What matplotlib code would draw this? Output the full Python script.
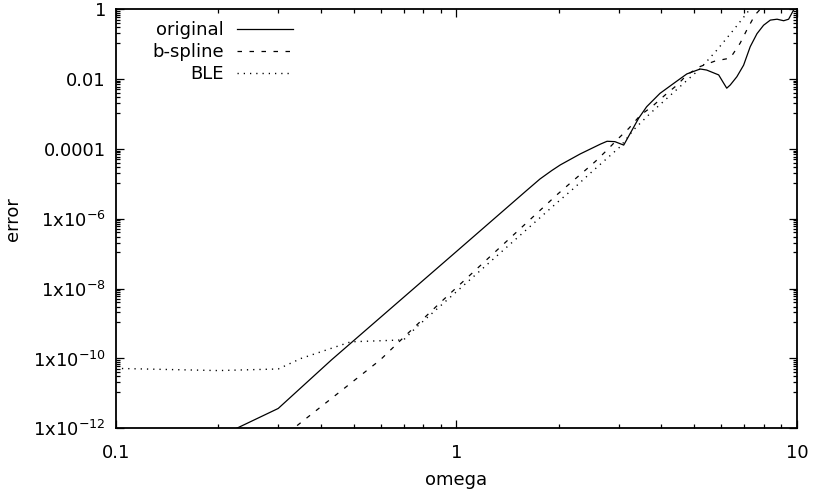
import numpy as np
import matplotlib
matplotlib.use('Agg')
import matplotlib.pyplot as plt
from matplotlib.ticker import FixedLocator, NullFormatter

plt.rcParams['font.family'] = ['DejaVu Sans']
plt.rcParams['font.size'] = 13

# 原始误差曲线
orig_omega = [0.2, 0.3, 0.43, 1.0, 1.6, 1.76, 1.905, 2.02, 2.31, 2.65, 2.77, 2.92, 3.10,
              3.24, 3.43, 3.62, 3.96, 4.35, 4.75, 5.20, 5.43, 5.89, 6.08, 6.22, 6.37,
              6.66, 6.97, 7.29, 7.63, 7.98, 8.35, 8.74, 9.14, 9.45, 9.77, 10.0]
orig_err = [5.6e-13, 3.7e-12, 9.1e-11, 1.15e-7, 6.2e-6, 1.38e-5, 2.4e-5, 3.5e-5, 7.2e-5,
            1.38e-4, 1.66e-4, 1.62e-4, 1.29e-4, 2.8e-4, 7.6e-4, 1.62e-3, 3.9e-3, 7.6e-3,
            1.41e-2, 1.95e-2, 1.82e-2, 1.32e-2, 7.9e-3, 5.5e-3, 6.8e-3, 1.17e-2, 2.5e-2,
            8.5e-2, 0.20, 0.35, 0.49, 0.52, 0.47, 0.52, 0.95, 1.26]

# b-spline 曲线
bspl_omega = [0.3, 0.333, 0.598, 0.70, 0.916, 1.97, 2.16, 2.36, 2.56, 2.77, 2.99,
              3.21, 3.47, 3.75, 4.10, 4.45, 4.75, 5.20, 5.75, 6.37, 6.81, 7.13, 7.53,
              7.80, 8.13]
bspl_err = [4.5e-13, 1.0e-12, 9.1e-11, 4.0e-10, 4.8e-9, 4.8e-6, 1.05e-5, 2.2e-5,
            4.4e-5, 9.3e-5, 2.0e-4, 3.9e-4, 9.3e-4, 1.62e-3, 3.5e-3, 6.8e-3, 1.32e-2,
            2.3e-2, 3.3e-2, 4.0e-2, 0.107, 0.26, 0.69, 1.0, 2.0]

# BLE 曲线
ble_omega = [0.1, 0.2, 0.3, 0.35, 0.49, 0.70, 0.766, 1.886, 2.02, 2.21, 2.47, 2.77,
             3.03, 3.31, 3.71, 4.15, 4.65, 5.20, 5.82, 6.52, 7.13, 7.59]
ble_err = [5.2e-11, 4.5e-11, 5.0e-11, 1.0e-10, 3.0e-10, 3.4e-10, 8.1e-10, 1.95e-6,
           3.5e-6, 7.4e-6, 2.0e-5, 5.4e-5, 1.17e-4, 3.5e-4, 1.05e-3, 2.8e-3, 7.6e-3,
           2.0e-2, 6.8e-2, 0.26, 0.78, 1.8]

y_major = [1e-12, 1e-10, 1e-8, 1e-6, 1e-4, 1e-2, 1]
y_labels = ['1x10$^{-12}$', '1x10$^{-10}$', '1x10$^{-8}$', '1x10$^{-6}$',
            '0.0001', '0.01', '1']
x_major = [0.1, 1, 10]
x_labels = ['0.1', '1', '10']

fig = plt.figure(figsize=(8.13, 4.94), dpi=100)
ax = fig.add_axes([0.1423, 0.133, 0.838, 0.8482])

lw = 0.9
ax.plot(orig_omega, orig_err, color='black', lw=lw, linestyle='-', label='original')
ax.plot(bspl_omega, bspl_err, color='black', lw=lw, linestyle=(0, (3.6, 6.0)), label='b-spline')
ax.plot(ble_omega, ble_err, color='black', lw=1.0, linestyle=(0, (0.9, 3.6)), label='BLE')

ax.set_xscale('log')
ax.set_yscale('log')
ax.set_xlim(0.1, 10)
ax.set_ylim(1e-12, 1)

ax.xaxis.set_major_locator(FixedLocator(x_major))
ax.set_xticklabels(x_labels)
x_minor = [m * 10.0 ** e for e in (-1, 0) for m in range(2, 10)]
ax.xaxis.set_minor_locator(FixedLocator(x_minor))
ax.xaxis.set_minor_formatter(NullFormatter())

ax.yaxis.set_major_locator(FixedLocator(y_major))
ax.set_yticklabels(y_labels)
# gnuplot 风格的次刻度：两个主刻度之间线性等分
y_minor = []
for lo, hi in zip(y_major[:-1], y_major[1:]):
    for k in range(1, 10):
        y_minor.append(lo + k * (hi - lo) / 10.0)
ax.yaxis.set_minor_locator(FixedLocator(y_minor))
ax.yaxis.set_minor_formatter(NullFormatter())

ax.tick_params(which='both', direction='in', top=True, right=True, width=0.9)
ax.tick_params(which='major', length=6)
ax.tick_params(which='minor', length=3)
ax.tick_params(axis='x', pad=11)
ax.tick_params(axis='y', pad=7)
for s in ax.spines.values():
    s.set_linewidth(1.3)

ax.set_xlabel('omega', labelpad=7)
ax.set_ylabel('error', labelpad=8)

ax.legend(loc='upper right', bbox_to_anchor=(0.274, 0.993), markerfirst=False,
          frameon=False, borderpad=0, labelspacing=0.22, handlelength=3.1,
          handletextpad=0.75)

fig.savefig('out.png', dpi=100)
